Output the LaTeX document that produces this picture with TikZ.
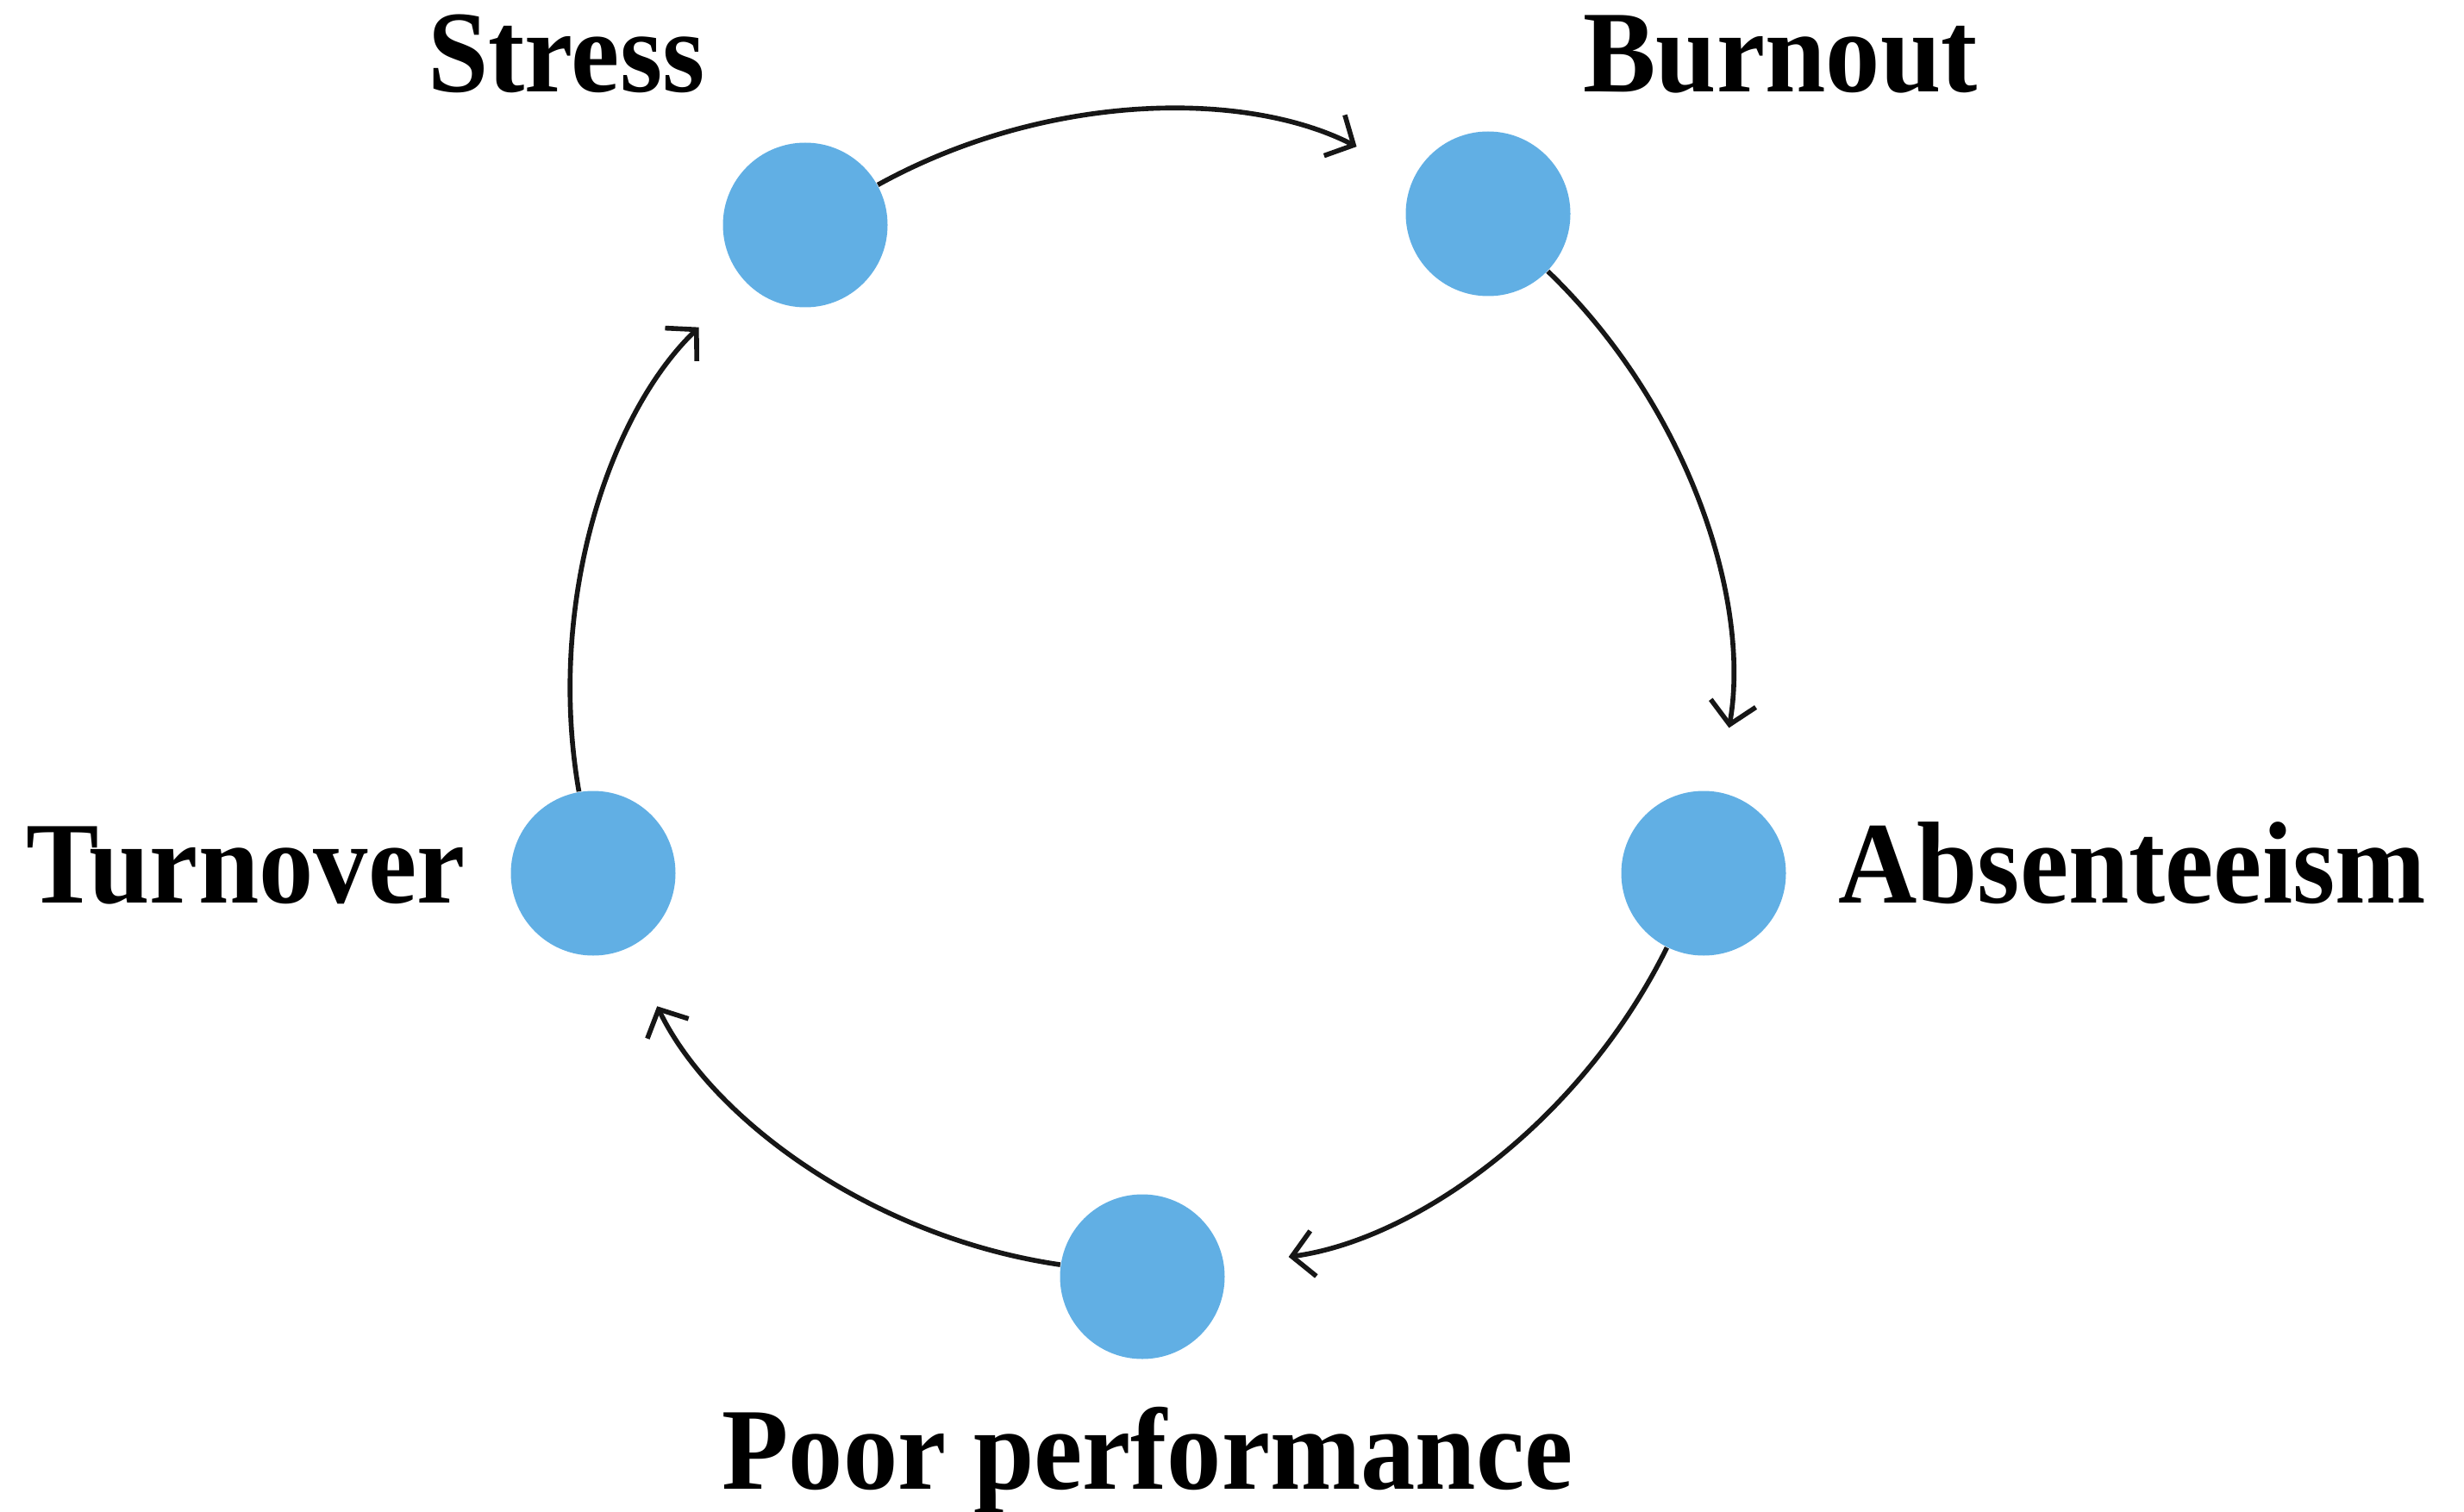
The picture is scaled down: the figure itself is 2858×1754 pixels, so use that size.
\documentclass[tikz,border=0pt]{standalone}
\usepackage{fontspec}
\newfontfamily\lblfont{Liberation Serif}[FakeStretch=0.935]
\usetikzlibrary{arrows.meta}
\definecolor{dotblue}{RGB}{97,175,228}
\definecolor{ink}{RGB}{22,22,22}
\begin{document}
\begin{tikzpicture}[x=0.1mm,y=0.1mm,
  dot/.style={circle,fill=dotblue,draw=none,inner sep=0pt,minimum size=19.1mm},
  lbl/.style={anchor=base,inner sep=0pt,font=\lblfont\bfseries\fontsize{38.5}{40}\selectfont,text=black},
  flow/.style={draw=ink,line width=1.6pt,-{Straight Barb[length=2.5mm,width=5.3mm,line width=1.6pt]},
    bend left=28,looseness=0.91,shorten >=7.5mm}]
\useasboundingbox (0,0) rectangle (2858,-1754);
% dots
\node[dot] (st) at (934,-261) {};
\node[dot] (bu) at (1726,-248) {};
\node[dot] (ab) at (1976,-1013) {};
\node[dot] (po) at (1325,-1481) {};
\node[dot] (tu) at (688,-1013) {};
% labels
\node[lbl] (lst) at (657,-107) {Stress};
\node[lbl] (lbu) at (2065,-107) {Burnout};
\node[lbl] (lab) at (2473,-1047) {Absenteeism};
\node[lbl] (lpo) at (1331,-1727) {Poor performance};
\node[lbl] (ltu) at (285,-1047) {Turnover};
% connectors
\draw[flow] (st) to (bu);
\draw[flow] (bu) to (ab);
\draw[flow] (ab) to (po);
\draw[flow] (po) to (tu);
\draw[flow] (tu) to (st);
\end{tikzpicture}
\end{document}
